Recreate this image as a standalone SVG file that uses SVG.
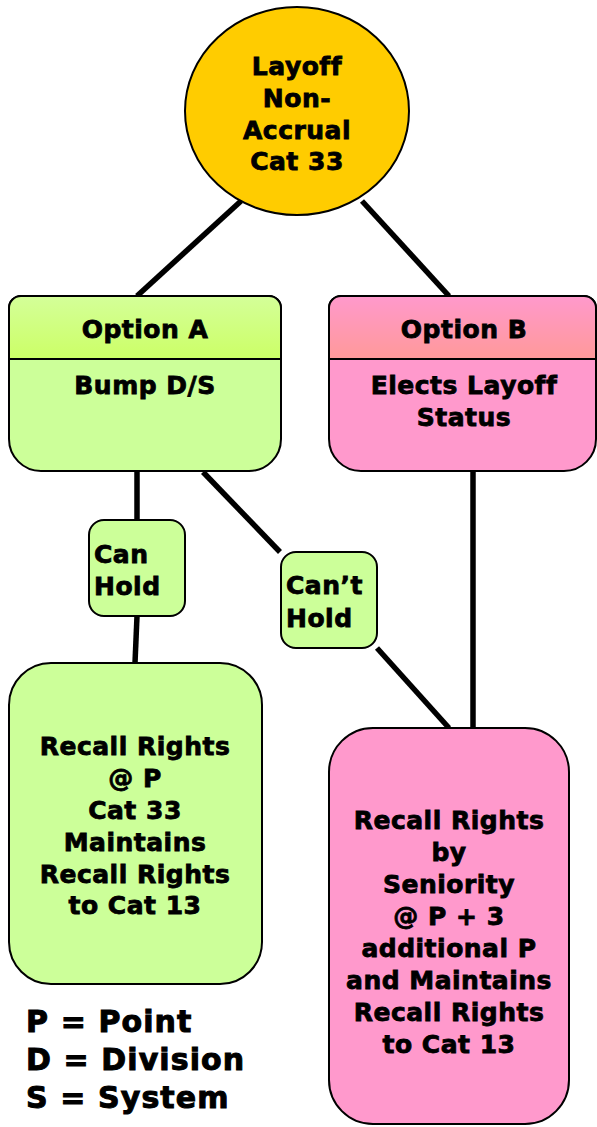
<svg xmlns="http://www.w3.org/2000/svg" width="597" height="1127" viewBox="0 0 597 1127">
<style>
text{font-family:"DejaVu Sans","Verdana",sans-serif;font-weight:bold;font-size:25px;fill:#000;stroke:#000;stroke-width:0.8px;letter-spacing:0.5px}
.c{text-anchor:middle}
.leg{font-size:30px;letter-spacing:1.1px;stroke-width:1px}
.box{stroke:#000;stroke-width:2}
.green{fill:#ccff99}
.pink{fill:#ff99cc}
.conn line{stroke:#000;stroke-width:5.5;stroke-linecap:butt}
</style>
<defs>
<linearGradient id="gA" x1="0" y1="0" x2="0" y2="1">
<stop offset="0" stop-color="#d4ff99"/>
<stop offset="1" stop-color="#ccff66"/>
</linearGradient>
<linearGradient id="gB" x1="0" y1="0" x2="0" y2="1">
<stop offset="0" stop-color="#ff99cc"/>
<stop offset="1" stop-color="#ff9999"/>
</linearGradient>
</defs>
<rect width="597" height="1127" fill="#fff"/>
<g class="conn" id="connectors">
<line x1="241" y1="201" x2="137" y2="296"/>
<line x1="362" y1="201" x2="449" y2="296"/>
<line x1="137" y1="471" x2="137" y2="520"/>
<line x1="137" y1="616" x2="135" y2="663"/>
<line x1="203" y1="472" x2="280" y2="552"/>
<line x1="377" y1="648" x2="449" y2="728"/>
<line x1="473" y1="471" x2="473" y2="728"/>
</g>
<g id="layoff">
<ellipse cx="297" cy="111" rx="112" ry="104" fill="#ffcc00" class="box"/>
<text class="c" x="297" y="75">Layoff</text>
<text class="c" x="297" y="107">Non-</text>
<text class="c" x="297" y="139">Accrual</text>
<text class="c" x="297" y="170">Cat 33</text>
</g>
<g id="optionA">
<path class="box green" d="M21,296 H269 A12,12 0 0 1 281,308 V439 A32,32 0 0 1 249,471 H41 A32,32 0 0 1 9,439 V308 A12,12 0 0 1 21,296 Z"/>
<path class="box" fill="url(#gA)" d="M9,359 V308 A12,12 0 0 1 21,296 H269 A12,12 0 0 1 281,308 V359 Z"/>
<text class="c" x="145" y="338">Option A</text>
<text class="c" x="145" y="394">Bump D/S</text>
</g>
<g id="optionB">
<path class="box pink" d="M341,296 H584 A12,12 0 0 1 596,308 V439 A32,32 0 0 1 564,471 H361 A32,32 0 0 1 329,439 V308 A12,12 0 0 1 341,296 Z"/>
<path class="box" fill="url(#gB)" d="M329,359 V308 A12,12 0 0 1 341,296 H584 A12,12 0 0 1 596,308 V359 Z"/>
<text class="c" x="464" y="338">Option B</text>
<text class="c" x="464" y="394">Elects Layoff</text>
<text class="c" x="464" y="426">Status</text>
</g>
<g id="canHold">
<rect class="box green" x="89" y="520" width="96" height="96" rx="15"/>
<text x="94" y="563">Can</text>
<text x="94" y="595">Hold</text>
</g>
<g id="cantHold">
<rect class="box green" x="281" y="552" width="96" height="96" rx="15"/>
<text x="286" y="594">Can’t</text>
<text x="286" y="627">Hold</text>
</g>
<g id="recallA">
<rect class="box green" x="9" y="663" width="253" height="321" rx="42"/>
<text class="c" x="135" y="755">Recall Rights</text>
<text class="c" x="135" y="787">@ P</text>
<text class="c" x="135" y="819">Cat 33</text>
<text class="c" x="135" y="851">Maintains</text>
<text class="c" x="135" y="883">Recall Rights</text>
<text class="c" x="135" y="914">to Cat 13</text>
</g>
<g id="recallB">
<rect class="box pink" x="329" y="728" width="240" height="396" rx="44"/>
<text class="c" x="449" y="829">Recall Rights</text>
<text class="c" x="449" y="861">by</text>
<text class="c" x="449" y="893">Seniority</text>
<text class="c" x="449" y="925">@ P + 3</text>
<text class="c" x="449" y="957">additional P</text>
<text class="c" x="449" y="989">and Maintains</text>
<text class="c" x="449" y="1021">Recall Rights</text>
<text class="c" x="449" y="1053">to Cat 13</text>
</g>
<g id="legend">
<text class="leg" x="26" y="1032">P = Point</text>
<text class="leg" x="26" y="1070">D = Division</text>
<text class="leg" x="26" y="1108">S = System</text>
</g>
</svg>
